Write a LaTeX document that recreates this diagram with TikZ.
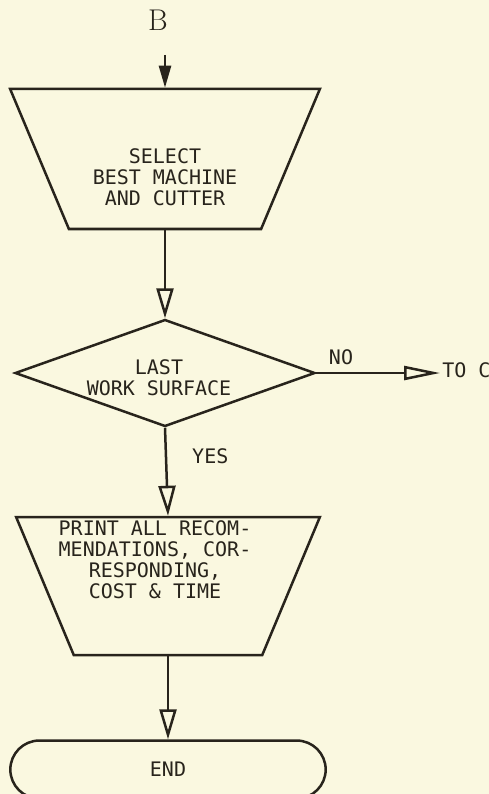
\documentclass[tikz,border=0pt]{standalone}
\usepackage{fontspec}
\usepackage{xcolor}
\usepackage{tikz}
\usetikzlibrary{arrows.meta,positioning,shapes.geometric,shapes.misc}
\newfontfamily\lettering{DejaVu Sans Mono}
\definecolor{paper}{RGB}{250,248,224}
\definecolor{ink}{RGB}{40,36,28}

\begin{document}
\begin{tikzpicture}[
    x=1pt, y=-1pt,
    node distance=88pt,
    manual/.style={
        draw=ink,
        trapezium,
        shape border rotate=180,
        trapezium angle=73,
        trapezium stretches=true,
        minimum height=140pt
    },
    decide/.style={
        draw=ink,
        diamond,
        aspect=2.8,
        minimum width=300pt,
        minimum height=107pt,
        inner sep=0pt
    },
    term/.style={
        draw=ink,
        rounded rectangle,
        minimum width=322pt,
        minimum height=58pt,
        font=\lettering\fontsize{20}{21}\selectfont
    },
    txt/.style={
        font=\lettering\fontsize{20}{21}\selectfont,
        text=ink,
        align=center,
        inner sep=1pt
    },
    ->, >={Triangle[open,length=30pt,width=17pt]}, line width=2.5pt, ink
]
\fill[paper] (0,0) rectangle (489,794);
\useasboundingbox (0,0) rectangle (489,794);

\node[manual, minimum width=310pt] (select) at (165,159) {};
\node[txt] (selecttxt) at ([yshift=-18pt]select.center) {
SELECT\\
BEST MACHINE\\
AND CUTTER
};

\node[decide, below=88pt of select] (test) {};
\node[txt] (testtxt) at ([xshift=-6pt,yshift=-5pt]test.center) {
LAST\\
WORK SURFACE
};

\node[manual, minimum width=304pt, minimum height=138pt,
    below=88pt of test, xshift=3pt] (print) {};
\node[txt] (printtxt) at ([xshift=-13pt,yshift=26pt]print.center) {
PRINT ALL RECOM-\\
MENDATIONS, COR-\\
RESPONDING,\\
COST \& TIME
};

\node[term, below=83pt of print] (finish) {END};

\node[font=\fontsize{30}{30}\selectfont] (bee) at (158,20) {B};
\node[txt, anchor=west] (toc) at (440,370) {TO C};
\coordinate (entry) at (165,55);

\draw[-{Triangle[length=22pt,width=12pt]}] (entry) -- (select.north);
\draw (select.south) -- (test.north);
\draw (test.south) -- (print.north)
    node[txt, pos=0.32, right=24pt] (yes) {YES};
\draw (print.south) -- (finish.north);
\draw[-{Triangle[open,length=36pt,width=14pt]}] (test.east) -- (test.east -| toc.west)
    node[txt, pos=0.2, above=6pt] (no) {NO};

\end{tikzpicture}
\end{document}
